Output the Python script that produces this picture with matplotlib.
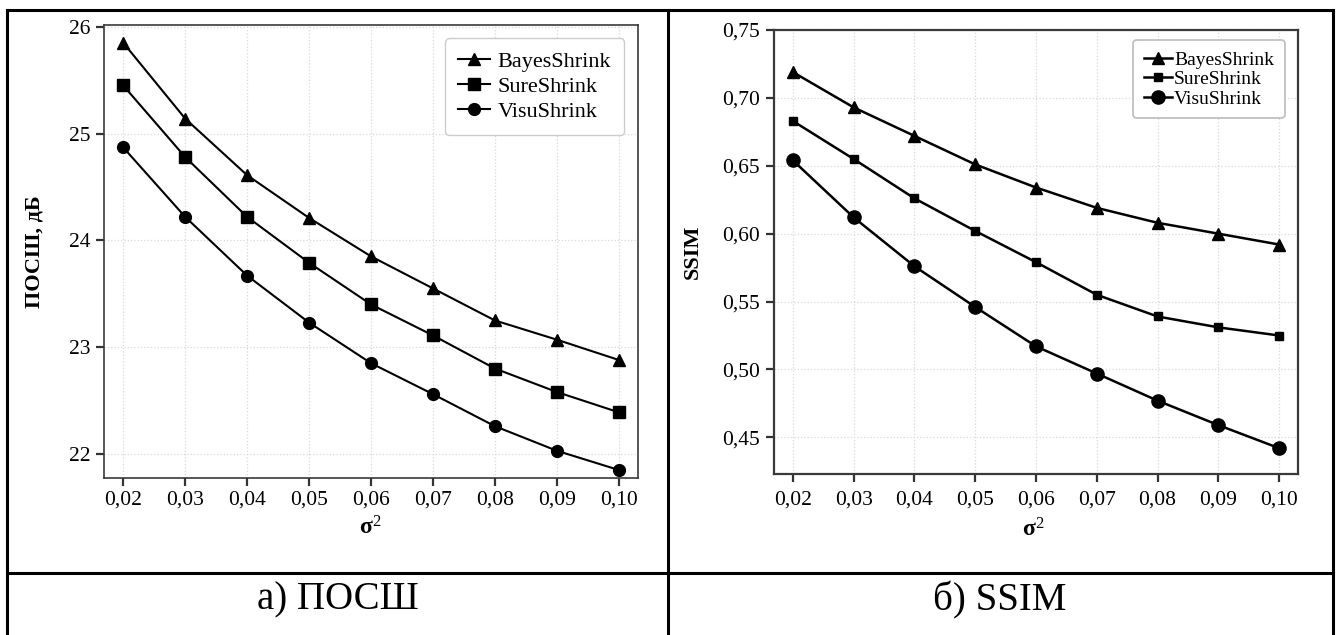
import numpy as np
import matplotlib
matplotlib.use('Agg')
import matplotlib.pyplot as plt
from matplotlib.lines import Line2D

plt.rcParams['font.family'] = ['Liberation Serif', 'DejaVu Serif']
plt.rcParams['mathtext.fontset'] = 'custom'
plt.rcParams['mathtext.rm'] = 'Liberation Serif'
plt.rcParams['mathtext.bf'] = 'Liberation Serif:bold'
plt.rcParams['mathtext.it'] = 'Liberation Serif:italic'

# Дисперсия шума
sigma2 = [0.02, 0.03, 0.04, 0.05, 0.06, 0.07, 0.08, 0.09, 0.10]
x_labels = ['0,02', '0,03', '0,04', '0,05', '0,06', '0,07', '0,08', '0,09', '0,10']

# ПОСШ, дБ
psnr_bayes = [25.85, 25.14, 24.61, 24.21, 23.85, 23.55, 23.25, 23.07, 22.88]
psnr_sure = [25.45, 24.78, 24.22, 23.79, 23.40, 23.11, 22.80, 22.58, 22.39]
psnr_visu = [24.87, 24.22, 23.67, 23.23, 22.85, 22.56, 22.26, 22.03, 21.85]
psnr_ticks = [22, 23, 24, 25, 26]
psnr_labels = ['22', '23', '24', '25', '26']

# SSIM
ssim_bayes = [0.719, 0.693, 0.672, 0.651, 0.634, 0.619, 0.608, 0.600, 0.592]
ssim_sure = [0.683, 0.655, 0.626, 0.602, 0.579, 0.555, 0.539, 0.531, 0.525]
ssim_visu = [0.654, 0.612, 0.576, 0.546, 0.517, 0.497, 0.477, 0.459, 0.442]
ssim_ticks = [0.45, 0.50, 0.55, 0.60, 0.65, 0.70, 0.75]
ssim_labels = ['0,45', '0,50', '0,55', '0,60', '0,65', '0,70', '0,75']

methods = ['BayesShrink', 'SureShrink', 'VisuShrink']
markers = ['^', 's', 'o']

fig = plt.figure(figsize=(13.4, 6.35), dpi=100)


def style_axes(ax, ylim, yticks, ylabels, ylabel, lw_spine):
    ax.set_xlim(0.0169, 0.1031)
    ax.set_ylim(*ylim)
    ax.set_xticks(sigma2)
    ax.set_xticklabels(x_labels)
    ax.set_yticks(yticks)
    ax.set_yticklabels(ylabels)
    ax.tick_params(axis='both', labelsize=15.5, length=6, width=1.6,
                   color='#333333', direction='out')
    ax.tick_params(axis='x', pad=3)
    ax.tick_params(axis='y', pad=4)
    ax.grid(True, color='#d8d8d8', linestyle=':', linewidth=0.9)
    ax.set_axisbelow(True)
    for sp in ax.spines.values():
        sp.set_color('#3a3a3a')
        sp.set_linewidth(lw_spine)
    ax.set_ylabel(ylabel, fontsize=16, fontweight='bold')
    ax.set_xlabel(r'$\mathbf{σ}^{2}$', fontsize=17)


# а) ПОСШ
ax1 = fig.add_axes([104 / 1340, 1 - 478 / 635, 534 / 1340, 453 / 635])
sizes1 = [9, 8, 8.5]
for vals, m, ms, name in zip([psnr_bayes, psnr_sure, psnr_visu], markers, sizes1, methods):
    ax1.plot(sigma2, vals, color='black', marker=m, markersize=ms, linewidth=1.5, label=name)
style_axes(ax1, (21.775, 26.016), psnr_ticks, psnr_labels, 'ПОСШ, дБ', 1.2)
ax1.yaxis.set_label_coords(-0.112, 0.5)
ax1.xaxis.set_label_coords(0.498, -0.085)
leg1 = ax1.legend(loc='upper right', bbox_to_anchor=(0.974, 0.971), borderaxespad=0,
                  fontsize=16, handlelength=1.4, handletextpad=0.35, labelspacing=0.2,
                  fancybox=True, framealpha=1, edgecolor='#cccccc', borderpad=0.6)
leg1.get_frame().set_linewidth(1.0)

# б) SSIM
ax2 = fig.add_axes([774 / 1340, 1 - 474 / 635, 524 / 1340, 444 / 635])
sizes2 = [8.5, 6, 9.5]
for vals, m, ms, name in zip([ssim_bayes, ssim_sure, ssim_visu], markers, sizes2, methods):
    ax2.plot(sigma2, vals, color='black', marker=m, markersize=ms, linewidth=1.8, label=name)
style_axes(ax2, (0.423, 0.75), ssim_ticks, ssim_labels, 'SSIM', 1.6)
ax2.tick_params(axis='x', pad=6)
ax2.yaxis.set_label_coords(-0.135, 0.5)
ax2.xaxis.set_label_coords(0.494, -0.1)
leg2 = ax2.legend(loc='upper right', bbox_to_anchor=(0.975, 0.977), borderaxespad=0,
                  fontsize=14, handlelength=1.45, handletextpad=0.1, labelspacing=0.1,
                  fancybox=True, framealpha=1, edgecolor='#bbbbbb', borderpad=0.55)
leg2.get_frame().set_linewidth(1.2)

# рамка таблицы
W, H = 1340, 635
def hline(y, x0, x1):
    fig.add_artist(Line2D([x0 / W, x1 / W], [1 - y / H, 1 - y / H], color='black', linewidth=2.2))

def vline(x, y0, y1):
    fig.add_artist(Line2D([x / W, x / W], [1 - y0 / H, 1 - y1 / H], color='black', linewidth=2.2))

hline(10, 7, 1333)
hline(573, 7, 1333)
vline(7, 10, 635)
vline(668, 10, 635)
vline(1333, 10, 635)

fig.text(338 / W, 1 - 600 / H, 'а) ПОСШ', fontsize=28, ha='center', va='center')
fig.text(1000 / W, 1 - 600 / H, 'б) SSIM', fontsize=28, ha='center', va='center')

fig.savefig('out.png', dpi=100)
